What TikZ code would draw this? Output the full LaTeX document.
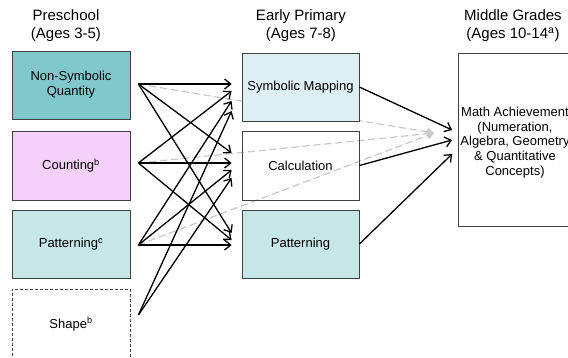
\documentclass[tikz,border=0pt]{standalone}
\usepackage{fontspec}
\setmainfont{Liberation Sans}
\usepackage{tikz}
\usetikzlibrary{calc,arrows.meta}

\definecolor{nsqfill}{HTML}{80C8CC}
\definecolor{cntfill}{HTML}{F5D0FA}
\definecolor{patfill}{HTML}{C6E6E8}
\definecolor{symfill}{HTML}{DDEFF2}
\definecolor{boxline}{HTML}{404040}
\definecolor{faintline}{HTML}{C8C8C8}

\pgfdeclarelayer{back}
\pgfsetlayers{back,main}

\begin{document}
\begin{tikzpicture}[x=1pt,y=-1pt,
	box/.style={draw=boxline, line width=0.8pt, minimum width=118pt, minimum height=68pt,
		align=center, inner sep=2pt, font=\fontsize{13}{15}\selectfont},
	hdr/.style={align=center, font=\fontsize{15}{18}\selectfont},
	link/.style={-{Straight Barb[length=6pt,width=10pt]}, line width=1.3pt},
	faint/.style={-{Triangle[length=7pt,width=8pt]}, draw=faintline, fill=faintline,
		line width=1.2pt, dash pattern=on 7pt off 4pt}]
	
	\useasboundingbox (0,0) rectangle (568,357);
	
	% Column titles
	\node[hdr] (H1) at (66,26) {Preschool\\(Ages 3-5)};
	\node[hdr] (H2) at (301,26) {Early Primary\\(Ages 7-8)};
	\node[hdr] (H3) at (513,26) {Middle Grades\\(Ages 10-14\textsuperscript{a})};
	
	% Preschool skills
	\node[box, fill=nsqfill] (Pre1) at (71,85) {Non-Symbolic\\Quantity};
	\node[box, fill=cntfill, minimum height=69pt] (Pre2) at (71,165.5) {Counting\textsuperscript{b}};
	\node[box, fill=patfill] (Pre3) at (71,244) {Patterning\textsuperscript{c}};
	\node[box, minimum height=70pt, dash pattern=on 3pt off 2pt] (Pre4) at (71,324) {Shape\textsuperscript{b}};
	
	% Early primary skills
	\node[box, fill=symfill, minimum width=117pt] (Prim1) at (300.5,87) {Symbolic Mapping};
	\node[box, minimum width=117pt, minimum height=69pt] (Prim2) at (300.5,165.5) {Calculation};
	\node[box, fill=patfill, minimum width=117pt] (Prim3) at (300.5,244) {Patterning};
	
	% Middle grades outcome (box runs off the right edge)
	\node[box, minimum width=141pt, minimum height=173pt] (Mid) at (529,139.5) {};
	\node[align=center, font=\fontsize{13}{14.8}\selectfont] (MidText) at (515,142.5)
		{Math Achievement\\(Numeration,\\Algebra, Geometry\\\& Quantitative\\Concepts)};
	
	% Start points of the arrows
	\coordinate (Out1) at ($(Pre1.east)+(8,-1)$);
	\coordinate (Out2) at ($(Pre2.east)+(8,-2.5)$);
	\coordinate (Out3) at ($(Pre3.east)+(8,1)$);
	\coordinate (Out4) at ($(Pre4.east)+(8,-9)$);
	\coordinate (Hub) at ($(Mid.west)+(-24,-6.5)$);
	
	% Preschool -> early primary
	\foreach \src/\dst/\dy in {Out1/Prim1/-3, Out2/Prim1/4, Out3/Prim1/14, Out4/Prim1/24,
		Out1/Prim2/-12.5, Out2/Prim2/-2.5, Out3/Prim2/4.5, Out4/Prim2/12.5,
		Out1/Prim3/-11, Out2/Prim3/-4, Out3/Prim3/1}
		\draw[link] (\src) -- ($(\dst.west)+(-10,\dy)$);
	
	% Direct paths, behind the boxes
	\begin{pgfonlayer}{back}
		\foreach \src in {Out1,Out2,Out3}
			\draw[faint] (\src) -- (Hub);
	\end{pgfonlayer}
	
	% Early primary -> middle grades
	\draw[link] (Prim1.east) -- ($(Mid.west)+(-6,-9.5)$);
	\draw[link] (Prim2.east) -- ($(Mid.west)+(-6,0.5)$);
	\draw[link] (Prim3.east) -- ($(Mid.west)+(-6,14.5)$);
	
\end{tikzpicture}
\end{document}
